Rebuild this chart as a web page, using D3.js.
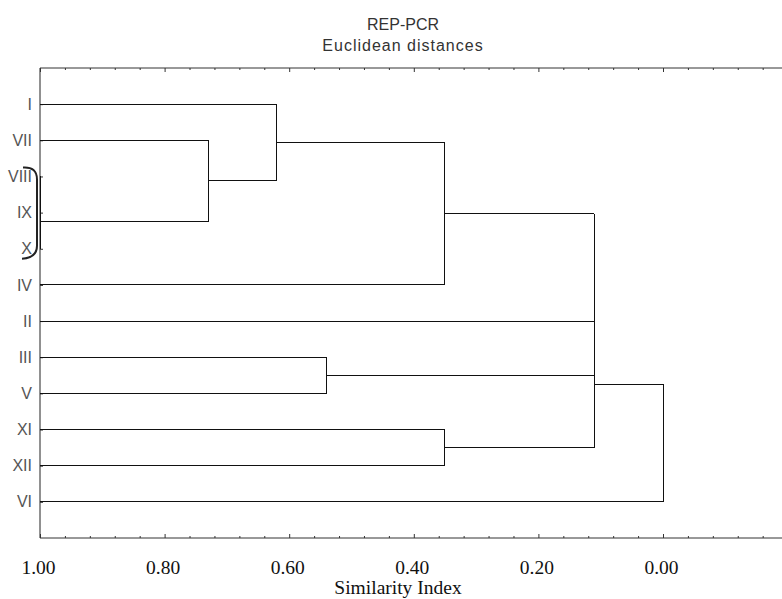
<!DOCTYPE html>
<html><head><meta charset="utf-8">
<script src="https://cdn.jsdelivr.net/npm/d3@7/dist/d3.min.js"></script>
<style>
html,body{margin:0;padding:0;background:#fff;}
svg{display:block;}
</style></head>
<body>
<svg id="chart" width="782" height="599"></svg>
<script>
// ---- data ----
const titleLines = ["REP-PCR", "Euclidean distances"];
const xAxisTitle = "Similarity Index";
const leaves = ["I","VII","VIII","IX","X","IV","II","III","V","XI","XII","VI"];
// merges: nodes 0..11 are leaves, 12+ are merged clusters in order
const mergeA   = [2, 12, 1, 0, 15, 7, 9, 16, 19, 20, 21];
const mergeB   = [3, 4, 13, 14, 5, 8, 10, 6, 17, 18, 11];
const mergeSim = [1.00, 1.00, 0.73, 0.62, 0.35, 0.54, 0.35, 0.11, 0.11, 0.11, 0.00];
const majorTicks = [1.00, 0.80, 0.60, 0.40, 0.20, 0.00];
const bracketFrom = "VIII", bracketTo = "X";

(function(){
const svg = d3.select("#chart");
const pLeft = 40, pTop = 68, pBottom = 538;
const x = d3.scaleLinear().domain([1, 0]).range([pLeft, 663]);
const pRight = x(-0.2);
const y = d3.scalePoint().domain(leaves).range([pTop, pBottom]).padding(1);

// title
svg.selectAll("text.title").data(titleLines).enter().append("text")
  .attr("class","title")
  .attr("x", 403).attr("y", (d,i)=> 30 + i*21)
  .attr("text-anchor","middle")
  .attr("font-family","Liberation Sans, Arial, sans-serif")
  .attr("font-size", 16).attr("letter-spacing", (d,i)=> i? 1:0)
  .attr("fill","#333").text(d=>d);

const minor = d3.range(0, 31).map(i => +(1 - i*0.04).toFixed(2));

// frame
svg.append("line").attr("x1",pLeft).attr("x2",pLeft).attr("y1",pTop).attr("y2",pBottom).attr("stroke","#222");
svg.append("line").attr("x1",pLeft).attr("x2",pRight).attr("y1",pTop).attr("y2",pTop).attr("stroke","#333");
svg.append("line").attr("x1",pLeft).attr("x2",pRight).attr("y1",pBottom).attr("y2",pBottom).attr("stroke","#333");

// inward ticks via axes
const isMajor = v => majorTicks.some(m => Math.abs(m - v) < 1e-6) || Math.abs(v + 0.2) < 1e-6;
function tickAxis(axisFn, yPos, dir) {
  const ax = svg.append("g").attr("transform", `translate(0,${yPos})`)
    .call(axisFn(x).tickValues(minor).tickSize(0).tickFormat(""));
  ax.select(".domain").remove();
  ax.selectAll(".tick line").attr("y2", d => dir * (isMajor(d) ? 4 : 2)).attr("stroke","#333");
}
tickAxis(d3.axisTop, pTop, 1);
tickAxis(d3.axisBottom, pBottom, -1);

// x labels
const xl = svg.append("g").attr("transform", `translate(-2,${pBottom})`)
  .call(d3.axisBottom(x).tickValues(majorTicks).tickSize(0).tickPadding(22).tickFormat(d3.format(".2f")));
xl.select(".domain").remove();
xl.selectAll("text").attr("font-family","Liberation Serif, Times New Roman, serif")
  .attr("font-size", 19.5).attr("fill","#111");

svg.append("text").attr("x", 398).attr("y", 594).attr("text-anchor","middle")
  .attr("font-family","Liberation Serif, Times New Roman, serif")
  .attr("font-size", 19.5).attr("fill","#111").text(xAxisTitle);

// y labels + inward ticks
const yl = svg.append("g").attr("transform", `translate(${pLeft},0)`)
  .call(d3.axisRight(y).tickSize(3));
yl.select(".domain").remove();
yl.selectAll(".tick line").attr("stroke","#333");
yl.selectAll("text").attr("text-anchor","end").attr("x", -8)
  .attr("font-family","Liberation Sans, Arial, sans-serif").attr("font-size", 16).attr("fill","#555");

// dendrogram
const nodeX = leaves.map(() => x(1));
const nodeY = leaves.map(l => y(l));
const links = [];
mergeSim.forEach((s, i) => {
  const a = mergeA[i], b = mergeB[i], mx = x(s);
  links.push([nodeX[a], nodeY[a], mx, nodeY[a]]);
  links.push([nodeX[b], nodeY[b], mx, nodeY[b]]);
  links.push([mx, nodeY[a], mx, nodeY[b]]);
  nodeX.push(mx);
  nodeY.push((nodeY[a] + nodeY[b]) / 2);
});
svg.append("g").selectAll("line").data(links).enter().append("line")
  .attr("x1", d=>d[0]).attr("y1", d=>d[1]).attr("x2", d=>d[2]).attr("y2", d=>d[3])
  .attr("stroke","#111").attr("stroke-width",1).attr("shape-rendering","crispEdges");

// bracket annotation
const by0 = y(bracketFrom) - 9, by1 = y(bracketTo) + 9;
svg.append("path")
  .attr("d", `M23,${by0} Q37,${by0-1} 37,${by0+12} L37,${by1-12} Q37,${by1} 22,${by1+1}`)
  .attr("fill","none").attr("stroke","#222").attr("stroke-width",2);
})();
</script>
</body></html>
